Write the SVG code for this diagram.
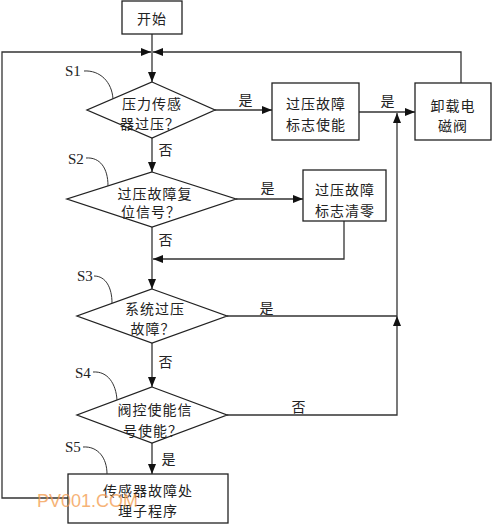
<svg xmlns="http://www.w3.org/2000/svg" width="495" height="527" viewBox="0 0 495 527">
<defs>
<marker id="arr" viewBox="0 0 10 8" refX="10" refY="4" markerWidth="10" markerHeight="8" markerUnits="userSpaceOnUse" orient="auto">
<path d="M0,0 L10,4 L0,8 Z" fill="#111"/>
</marker>
</defs>
<style>
.shape{fill:#fff;stroke:#222;stroke-width:1.3}
.ln{fill:none;stroke:#333;stroke-width:1.3}
.lead{fill:none;stroke:#333;stroke-width:1}
.t{font-family:"Liberation Serif","Noto Sans CJK SC",serif;font-size:14px;fill:#222;text-anchor:middle;letter-spacing:1px}
.lbl{font-family:"Liberation Serif",serif;font-size:15px;fill:#222}
.wm{font-family:"Liberation Sans",Arial,sans-serif;font-size:18px;fill:#f39a4a;opacity:0.75}
</style>
<rect width="495" height="527" fill="#fff"/>
<g id="connectors">
<path class="ln" d="M152,34 L152,82" marker-end="url(#arr)"/>
<path class="ln" d="M68,498 L2,498 L2,52 L151,52" marker-end="url(#arr)"/>
<path class="ln" d="M461,83 L461,52 L153,52" marker-end="url(#arr)"/>
<path class="ln" d="M215,110 L272,110" marker-end="url(#arr)"/>
<path class="ln" d="M359,112 L415,112" marker-end="url(#arr)"/>
<path class="ln" d="M152,138 L152,172" marker-end="url(#arr)"/>
<path class="ln" d="M236,199 L303,199" marker-end="url(#arr)"/>
<path class="ln" d="M344,221 L344,259 L153,259" marker-end="url(#arr)"/>
<path class="ln" d="M152,227 L152,289" marker-end="url(#arr)"/>
<path class="ln" d="M227,316 L397,316"/>
<path class="ln" d="M152,343 L152,387" marker-end="url(#arr)"/>
<path class="ln" d="M227,415 L397,415 L397,316" marker-end="url(#arr)"/>
<path class="ln" d="M397,316 L397,113" marker-end="url(#arr)"/>
<path class="ln" d="M152,443 L152,474" marker-end="url(#arr)"/>
<text class="t" x="246" y="105">是</text>
<text class="t" x="388" y="106">是</text>
<text class="t" x="166" y="155">否</text>
<text class="t" x="268" y="193">是</text>
<text class="t" x="166" y="245">否</text>
<text class="t" x="267" y="313">是</text>
<text class="t" x="166" y="367">否</text>
<text class="t" x="299" y="412">否</text>
<text class="t" x="169" y="464">是</text>
</g>
<g id="start">
<rect class="shape" x="122" y="1" width="60" height="33"/>
<text class="t" x="152" y="24">开始</text>
</g>
<g id="s1">
<polygon class="shape" points="152,82 215,110 152,138 87,110"/>
<text class="t" x="152" y="109">压力传感</text>
<text class="t" x="150" y="129">器过压？</text>
<text class="lbl" x="65" y="76">S1</text>
<path class="lead" d="M84,71 C100,70 112,82 113,99"/>
</g>
<g id="overpressure-enable">
<rect class="shape" x="272" y="83" width="87" height="57"/>
<text class="t" x="316" y="109">过压故障</text>
<text class="t" x="316" y="130">标志使能</text>
</g>
<g id="unload-valve">
<rect class="shape" x="415" y="83" width="76" height="57"/>
<text class="t" x="453" y="111">卸载电</text>
<text class="t" x="453" y="131">磁阀</text>
</g>
<g id="s2">
<polygon class="shape" points="152,172 236,199 152,227 67,199"/>
<text class="t" x="155" y="199">过压故障复</text>
<text class="t" x="151" y="217">位信号？</text>
<text class="lbl" x="68" y="164">S2</text>
<path class="lead" d="M86,158 C100,157 108,168 108,186"/>
</g>
<g id="overpressure-clear">
<rect class="shape" x="303" y="170" width="83" height="51"/>
<text class="t" x="345" y="195">过压故障</text>
<text class="t" x="345" y="216">标志清零</text>
</g>
<g id="s3">
<polygon class="shape" points="152,289 227,316 152,343 77,316"/>
<text class="t" x="155" y="314">系统过压</text>
<text class="t" x="153" y="334">故障？</text>
<text class="lbl" x="77" y="281">S3</text>
<path class="lead" d="M94,276 C106,276 112,288 112,303"/>
</g>
<g id="s4">
<polygon class="shape" points="152,387 227,415 152,443 77,415"/>
<text class="t" x="155" y="415">阀控使能信</text>
<text class="t" x="153" y="436">号使能？</text>
<text class="lbl" x="75" y="378">S4</text>
<path class="lead" d="M93,372 C108,371 116,384 117,400"/>
</g>
<g id="s5">
<rect class="shape" x="68" y="474" width="160" height="49"/>
<text class="t" x="148" y="496">传感器故障处</text>
<text class="t" x="148" y="516">理子程序</text>
<text class="lbl" x="65" y="452">S5</text>
<path class="lead" d="M83,447 C98,446 107,458 107,474"/>
</g>
<text class="wm" x="37" y="507">PV001.COM</text>
</svg>
